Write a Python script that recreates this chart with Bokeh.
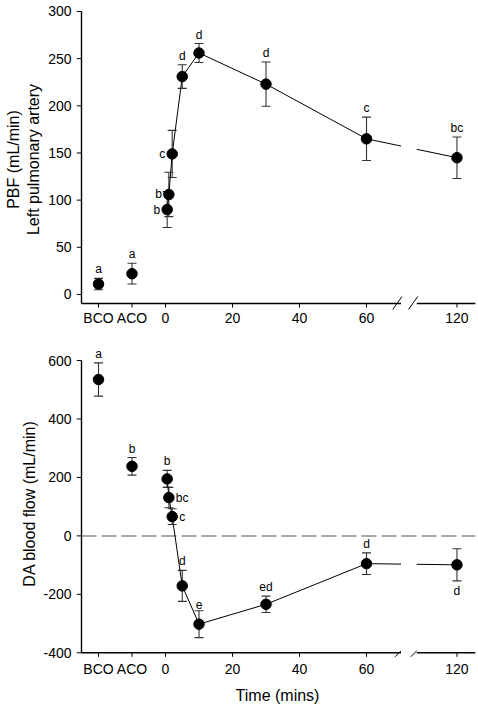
import math
from bokeh.plotting import figure
from bokeh.models import Range1d, FixedTicker
from bokeh.layouts import column
from bokeh.embed import file_html
from bokeh.resources import INLINE
from bokeh.core.properties import value

# ---------------- data ----------------
CATEGORIES = ["BCO", "ACO"]
CAT_POS = [-20, -10]                      # slots of the two baseline categories
TIMES = [0.5, 1, 2, 5, 10, 30, 60, 120]   # minutes
BREAK = (70.3, 75.0)                      # axis break (drawn units)
BREAK_SHIFT = 33                          # minutes hidden by the break (120 min drawn at 87)
X_TICKS = [-20, -10, 0, 20, 40, 60, 120]
X_TICK_LABELS = ["BCO", "ACO", "0", "20", "40", "60", "120"]

PBF_CAT = [11, 22]
PBF_CAT_ERR = [6, 11]
PBF_CAT_LETTERS = ["a", "a"]
PBF = [90, 106, 149, 231, 256, 223, 165, 145]
PBF_ERR = [19, 23.5, 25, 12.5, 10, 23.5, 23, 22]
PBF_LETTERS = ["b", "b", "c", "d", "d", "d", "c", "bc"]
PBF_LETTER_SIDE = ["left", "left", "left", "above", "above", "above", "above", "above"]
PBF_Y_TICKS = [0, 50, 100, 150, 200, 250, 300]
PBF_Y_TICK_LABELS = ["0", "50", "100", "150", "200", "250", "300"]

DA_CAT = [535, 238]
DA_CAT_ERR = [57, 30]
DA_CAT_LETTERS = ["a", "b"]
DA = [195, 131, 66, -171, -302, -234, -95, -99]
DA_ERR = [29, 35, 27, 53, 46, 28, 37, 55]
DA_LETTERS = ["b", "bc", "c", "d", "e", "ed", "d", "d"]
DA_LETTER_SIDE = ["above", "right", "right", "above", "above", "above", "above", "below"]
DA_Y_TICKS = [-400, -200, 0, 200, 400, 600]
DA_Y_TICK_LABELS = ["-400", "-200", "0", "200", "400", "600"]

# ---------------- layout ----------------
FONT = "Liberation Sans"
FIG_W = 478
BORDER_L = 76
FRAME_W = FIG_W - BORDER_L
X0, X1 = -26.567, 93.43
KX = FRAME_W / (X1 - X0)
AXIS_X0 = X0 + 5 / KX
AXIS_X1 = 92.5


def to_axis(t):
    return t if t <= BREAK[0] else t - BREAK_SHIFT


def split_at_break(xs, ys):
    px, py = [[xs[0]]], [[ys[0]]]
    for i in range(1, len(xs)):
        xa, ya, xb, yb = xs[i - 1], ys[i - 1], xs[i], ys[i]
        if xa < BREAK[0] and xb > BREAK[1]:
            y_b0 = ya + (yb - ya) * (BREAK[0] - xa) / (xb - xa)
            y_b1 = ya + (yb - ya) * (BREAK[1] - xa) / (xb - xa)
            px[-1].append(BREAK[0]); py[-1].append(y_b0)
            px.append([BREAK[1], xb]); py.append([y_b1, yb])
        else:
            px[-1].append(xb); py[-1].append(yb)
    return px, py


def make_panel(height, border_top, frame_h, y_lo, y_hi, axis_base, y_ticks, y_labels,
               cat_vals, cat_err, cat_letters, vals, errs, letters, sides,
               slash, zero_line=False):
    ky = frame_h / (y_hi - y_lo)
    p = figure(width=FIG_W, height=height, x_range=Range1d(X0, X1),
               y_range=Range1d(y_lo, y_hi), output_backend="svg",
               toolbar_location=None, min_border_left=BORDER_L,
               min_border_right=0, min_border_top=border_top,
               min_border_bottom=height - border_top - frame_h)
    p.outline_line_color = None
    p.grid.visible = False
    p.background_fill_color = "white"
    p.border_fill_color = "white"

    p.xaxis.ticker = FixedTicker(ticks=[to_axis(t) for t in X_TICKS])
    p.xaxis.major_label_overrides = {to_axis(t): lab for t, lab in zip(X_TICKS, X_TICK_LABELS)}
    p.yaxis.ticker = FixedTicker(ticks=y_ticks)
    p.yaxis.major_label_overrides = {t: lab for t, lab in zip(y_ticks, y_labels)}
    for ax in (p.xaxis[0], p.yaxis[0]):
        ax.axis_line_color = None
        ax.major_tick_line_color = None
        ax.minor_tick_line_color = None
        ax.major_tick_in = 0
        ax.major_tick_out = 0
        ax.major_label_text_font = FONT
        ax.major_label_text_font_size = "14px"
        ax.major_label_text_color = "black"
        ax.axis_label_text_font = FONT
        ax.axis_label_text_font_size = "16px"
        ax.axis_label_text_font_style = "normal"
        ax.axis_label_text_color = "black"
    p.xaxis.major_label_standoff = 0
    p.yaxis.major_label_standoff = 5

    if zero_line:
        p.segment(x0=[AXIS_X0], y0=[0], x1=[AXIS_X1], y1=[0], line_color="#8c8c8c",
                  line_width=1.5, line_dash="15 5")

    # hand-drawn axes with a break
    ax_kw = dict(line_color="black", line_width=1.4)
    p.segment(x0=[AXIS_X0], y0=[axis_base], x1=[AXIS_X0], y1=[y_ticks[-1]], **ax_kw)
    p.segment(x0=[AXIS_X0, BREAK[1]], y0=[axis_base, axis_base],
              x1=[BREAK[0], AXIS_X1], y1=[axis_base, axis_base], **ax_kw)
    p.segment(x0=[AXIS_X0 - 5 / KX] * len(y_ticks), y0=y_ticks,
              x1=[AXIS_X0] * len(y_ticks), y1=y_ticks, line_color="black", line_width=1)
    xt = [to_axis(t) for t in X_TICKS]
    p.segment(x0=xt, y0=[axis_base] * len(xt), x1=xt, y1=[axis_base - 4 / ky] * len(xt),
              line_color="black", line_width=1)
    sl, sd, sr, su = slash
    p.segment(x0=[b - sl / KX for b in BREAK], y0=[axis_base - sd / ky] * 2,
              x1=[b + sr / KX for b in BREAK], y1=[axis_base + su / ky] * 2,
              line_color="black", line_width=1)

    xs = CAT_POS + [to_axis(t) for t in TIMES]
    ys = cat_vals + vals
    es = cat_err + errs
    lo = [y - e for y, e in zip(ys, es)]
    hi = [y + e for y, e in zip(ys, es)]

    # error bars
    p.segment(x0=xs, y0=lo, x1=xs, y1=hi, line_color="#333333", line_width=1.1)
    p.scatter(x=xs + xs, y=lo + hi, marker="dash", size=9, line_color="#333333",
              line_width=1.1)

    # connecting line (timed samples only)
    mx, my = split_at_break([to_axis(t) for t in TIMES], vals)
    p.multi_line(xs=mx, ys=my, line_color="black", line_width=1)

    p.scatter(x=xs, y=ys, size=10.5, fill_color="black", line_color="black")

    # significance letters
    all_letters = cat_letters + letters
    all_sides = ["above"] * len(cat_letters) + sides
    for side in ("above", "below", "left", "right"):
        idx = [i for i, s in enumerate(all_sides) if s == side]
        if not idx:
            continue
        if side == "above":
            tx = [xs[i] for i in idx]; ty = [hi[i] + 2 / ky for i in idx]
            al, bl = "center", "bottom"
        elif side == "below":
            tx = [xs[i] for i in idx]; ty = [lo[i] - 3 / ky for i in idx]
            al, bl = "center", "top"
        elif side == "left":
            tx = [xs[i] - 7 / KX for i in idx]; ty = [ys[i] for i in idx]
            al, bl = "right", "middle"
        else:
            tx = [xs[i] + 7 / KX for i in idx]; ty = [ys[i] for i in idx]
            al, bl = "left", "middle"
        p.text(x=tx, y=ty, text=[all_letters[i] for i in idx],
               text_font=value(FONT), text_font_size=value("12px"),
               text_align=al, text_baseline=bl, text_color="black")
    return p, ky


# top panel
p1, ky1 = make_panel(336, 9, 300, -15.96, 302.12, -9.6, PBF_Y_TICKS, PBF_Y_TICK_LABELS,
                     PBF_CAT, PBF_CAT_ERR, PBF_CAT_LETTERS, PBF, PBF_ERR,
                     PBF_LETTERS, PBF_LETTER_SIDE, (9, 7, 1, 7))
p1.yaxis.axis_label = "PBF (mL/min)\nLeft pulmonary artery"
p1.yaxis.axis_label_standoff = 3

# bottom panel
p2, ky2 = make_panel(370, 10, 314, -426.34, 647.9, -400, DA_Y_TICKS, DA_Y_TICK_LABELS,
                     DA_CAT, DA_CAT_ERR, DA_CAT_LETTERS, DA, DA_ERR,
                     DA_LETTERS, DA_LETTER_SIDE, (6, 4, 0, 2), zero_line=True)
p2.yaxis.axis_label = "DA blood flow (mL/min)"
p2.yaxis.axis_label_standoff = 2
p2.xaxis.axis_label = "Time (mins)"
p2.xaxis.axis_label_standoff = 7

layout = column(p1, p2, spacing=0)
open("out.html", "w").write(file_html(layout, INLINE))
